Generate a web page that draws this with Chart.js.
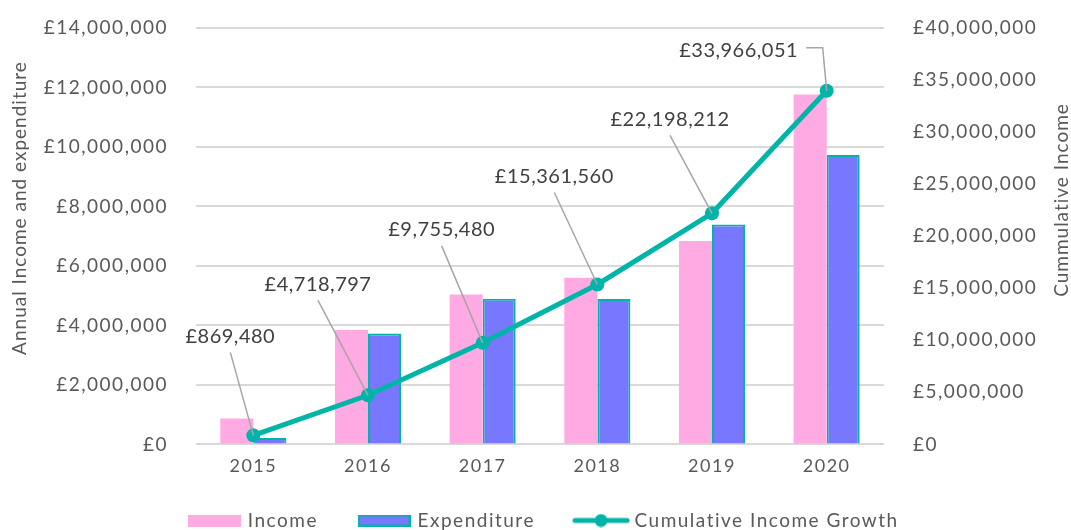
<!DOCTYPE html>
<html>
<head>
<meta charset="utf-8">
<script src="https://cdn.jsdelivr.net/npm/chart.js@4/dist/chart.umd.min.js"></script>
<style>
  html, body { margin: 0; padding: 0; background: #fff; }
  #wrap { width: 1071px; height: 530px; }
</style>
</head>
<body>
<div id="wrap"><canvas id="chart"></canvas></div>
<script>
// chart data
const years = ['2015', '2016', '2017', '2018', '2019', '2020'];
const income = [869480, 3849317, 5036683, 5606080, 6836652, 11767839];
const expenditure = [215000, 3730000, 4900000, 4890000, 7390000, 9730000];
const cumulative = [869480, 4718797, 9755480, 15361560, 22198212, 33966051];

// where each cumulative label sits, relative to its point (px)
const labelOffsets = [[-23, -99], [-50, -111], [-41, -113], [-43, -108], [-42, -94], [-88, -40]];

const pink = '#FFAAE3';
const blue = '#7878FF';
const teal = '#00B5A8';
const textGrey = '#595959';
const FONT = 'Lato';

const money = v => '£' + Number(v).toLocaleString('en-GB');

// little canvases used as legend markers
function marker(w, h, draw) {
    const c = document.createElement('canvas');
    c.width = w; c.height = h;
    draw(c.getContext('2d'));
    return c;
}
const incomeMark = marker(53, 12, g => { g.fillStyle = pink; g.fillRect(0, 0, 53, 12); });
const expMark = marker(53, 12, g => {
    g.fillStyle = teal; g.fillRect(0, 0, 53, 12);
    g.fillStyle = blue; g.fillRect(2, 2, 49, 8);
});
const lineMark = marker(58, 14, g => {
    g.strokeStyle = teal; g.lineWidth = 5; g.lineCap = 'round';
    g.beginPath(); g.moveTo(3, 7); g.lineTo(55, 7); g.stroke();
    g.fillStyle = teal; g.beginPath(); g.arc(29, 7, 6.5, 0, Math.PI * 2); g.fill();
});
const legendMarks = [incomeMark, expMark, lineMark];

// the font here is tracked a bit wider than Lato
const spacing = {
    id: 'spacing',
    beforeUpdate(chart) { chart.ctx.letterSpacing = '1.5px'; },
    beforeDraw(chart) { chart.ctx.letterSpacing = '1.5px'; },
    // legend sits a bit right of the page centre
    afterLayout(chart) {
        if (chart.legend) { chart.legend.left += 9; chart.legend.right += 9; }
    }
};

// axis titles, both read bottom to top
function sideTitle(ctx, text, x, y) {
    ctx.save();
    ctx.translate(x, y);
    ctx.rotate(-Math.PI / 2);
    ctx.fillText(text, 0, 0);
    ctx.restore();
}

// labels with leader lines for the cumulative series
const leaderLabels = {
    id: 'leaderLabels',
    afterDatasetsDraw(chart) {
        const ctx = chart.ctx;
        const meta = chart.getDatasetMeta(2);
        ctx.save();
        ctx.letterSpacing = '0.5px';
        ctx.font = '20px ' + FONT;
        ctx.textAlign = 'center';
        ctx.textBaseline = 'middle';
        meta.data.forEach((pt, i) => {
            const tx = pt.x + labelOffsets[i][0];
            const ty = pt.y + labelOffsets[i][1];
            const txt = money(cumulative[i]);
            ctx.strokeStyle = '#A6A6A6';
            ctx.lineWidth = 1.5;
            ctx.beginPath();
            if (i === meta.data.length - 1) {
                const right = tx + ctx.measureText(txt).width / 2;
                ctx.moveTo(right + 8, ty - 3);
                ctx.lineTo(pt.x - 4, ty - 3);
                ctx.lineTo(pt.x, pt.y);
            } else {
                ctx.moveTo(tx, ty + 16);
                ctx.lineTo(pt.x, pt.y);
            }
            ctx.stroke();
            ctx.fillStyle = '#404040';
            ctx.fillText(txt, tx, ty);
        });
        ctx.restore();
    },
    afterDraw(chart) {
        const ctx = chart.ctx;
        ctx.save();
        ctx.letterSpacing = '1px';
        ctx.font = '19px ' + FONT;
        ctx.fillStyle = textGrey;
        ctx.textAlign = 'center';
        ctx.textBaseline = 'middle';
        sideTitle(ctx, 'Annual Income and expenditure', 20, 208);
        sideTitle(ctx, 'Cummulative Income', 1062, 200);
        ctx.restore();
    }
};

const ctx = document.getElementById('chart').getContext('2d');
new Chart(ctx, {
    type: 'bar',
    data: {
        labels: years,
        datasets: [
            {
                label: 'Income',
                data: income,
                backgroundColor: pink,
                borderWidth: 0,
                yAxisID: 'y',
                order: 1,
                categoryPercentage: 0.576,
                barPercentage: 1
            },
            {
                label: 'Expenditure',
                data: expenditure,
                backgroundColor: blue,
                borderColor: teal,
                borderWidth: 2,
                yAxisID: 'y',
                order: 1,
                categoryPercentage: 0.576,
                barPercentage: 1
            },
            {
                type: 'line',
                label: 'Cumulative Income Growth',
                data: cumulative,
                borderColor: teal,
                backgroundColor: teal,
                borderWidth: 5,
                pointRadius: 7,
                pointBackgroundColor: teal,
                pointBorderWidth: 0,
                tension: 0,
                yAxisID: 'y1',
                order: 0
            }
        ]
    },
    options: {
        responsive: true,
        maintainAspectRatio: false,
        animation: false,
        layout: { padding: { top: 28, bottom: -10, left: 0, right: 0 } },
        plugins: {
            tooltip: { enabled: false },
            legend: {
                position: 'bottom',
                labels: {
                    usePointStyle: true,
                    pointStyleWidth: 48,
                    padding: 23,
                    color: textGrey,
                    font: { family: FONT, size: 19 },
                    sort: (a, b) => a.datasetIndex - b.datasetIndex,
                    generateLabels(chart) {
                        const items = Chart.defaults.plugins.legend.labels.generateLabels(chart);
                        items.forEach(it => {
                            it.pointStyle = legendMarks[it.datasetIndex];
                            // a little extra room after the first two entries
                            if (it.datasetIndex < 2) it.text += '   ';
                        });
                        return items;
                    }
                }
            }
        },
        scales: {
            x: {
                grid: { display: false, drawTicks: false },
                border: { display: false },
                ticks: { color: textGrey, font: { family: FONT, size: 18 }, padding: 11 }
            },
            y: {
                position: 'left',
                min: 0,
                max: 14000000,
                ticks: {
                    stepSize: 2000000,
                    color: textGrey,
                    font: { family: FONT, size: 19 },
                    padding: 0,
                    callback: v => money(v)
                },
                grid: { color: '#D9D9D9', lineWidth: 2, drawTicks: true, tickLength: 28, tickColor: 'rgba(0,0,0,0)' },
                border: { display: false },
                afterFit(scale) { scale.width = 196; }
            },
            y1: {
                position: 'right',
                min: 0,
                max: 40000000,
                ticks: {
                    stepSize: 5000000,
                    color: textGrey,
                    font: { family: FONT, size: 19 },
                    padding: 0,
                    callback: v => money(v)
                },
                grid: { color: 'rgba(0,0,0,0)', drawTicks: true, tickLength: 29, tickColor: 'rgba(0,0,0,0)' },
                border: { display: false },
                afterFit(scale) { scale.width = 187; }
            }
        }
    },
    plugins: [spacing, leaderLabels]
});
</script>
</body>
</html>
